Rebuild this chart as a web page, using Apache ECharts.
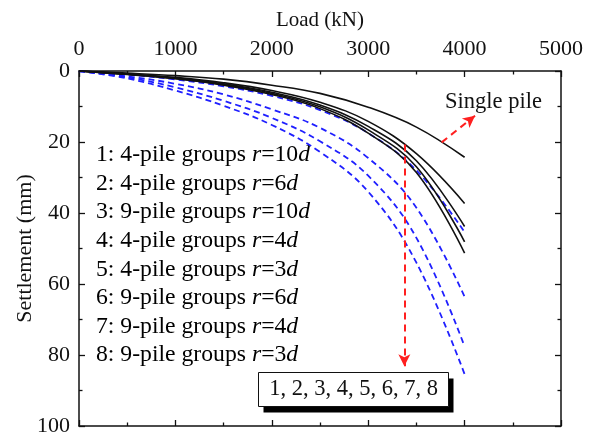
<!DOCTYPE html>
<html>
<head>
<meta charset="utf-8">
<script src="https://cdn.jsdelivr.net/npm/echarts@6/dist/echarts.min.js"></script>
<style>
  html, body { margin: 0; padding: 0; background: #fff; }
  #chart { width: 594px; height: 437px; }
</style>
</head>
<body>
<div id="chart"></div>
<script>
// Load steps (kN) shared by every curve
const loads = [0, 500, 1000, 1500, 2000, 2500, 3000, 3500, 4000];

// Settlement (mm) of the single pile
const singlePile = [0, 0.6, 1.3, 2.3, 4.0, 6.3, 10.2, 15.8, 24.3];

// 4-pile groups (solid black)
const g1_4pile_r10 = [0, 0.8, 1.8, 3.3, 5.5, 8.8, 14.2, 23.3, 37.3];
const g2_4pile_r6  = [0, 0.9, 2.0, 3.6, 6.0, 9.6, 15.6, 25.3, 43.8];
const g4_4pile_r4  = [0, 0.9, 2.1, 3.8, 6.3, 10.1, 16.6, 27.0, 48.1];
const g5_4pile_r3  = [0, 1.0, 2.2, 4.0, 6.6, 10.6, 17.5, 28.6, 51.3];

// 9-pile groups (dashed blue)
const g3_9pile_r10 = [0, 1.0, 2.4, 4.3, 7.0, 11.0, 17.5, 28.0, 45.4];
const g6_9pile_r6  = [0, 1.5, 3.6, 6.6, 10.8, 16.0, 24.5, 38.5, 63.6];
const g7_9pile_r4  = [0, 1.8, 4.6, 8.4, 13.2, 19.8, 29.5, 47.0, 77.6];
const g8_9pile_r3  = [0, 2.1, 5.5, 9.8, 15.2, 22.8, 34.0, 54.0, 85.4];

// Axis ticks
const loadTicks = [0, 1000, 2000, 3000, 4000, 5000];
const settlementTicks = [0, 20, 40, 60, 80, 100];

// Legend list text (number, pile count, spacing value)
const groupLabels = [
  ['1', '4', '10'], ['2', '4', '6'], ['3', '9', '10'], ['4', '4', '4'],
  ['5', '4', '3'], ['6', '9', '6'], ['7', '9', '4'], ['8', '9', '3']
];

// Red dashed pointer arrows, [load, settlement] start -> end
const arrowToBox = [[3375, 20.7], [3375, 83.2]];
const arrowToSingle = [[3762, 20.1], [4108, 12.6]];

const FONT = 'Liberation Serif, Times New Roman, serif';
const BLACK = '#111';
const BLUE = '#1f1fff';
const RED = '#ff2020';

const toPts = vals => loads.map((x, i) => [x, vals[i]]);

function solid(name, vals) {
  return {
    name, type: 'line', data: toPts(vals), smooth: 0.4,
    showSymbol: false, symbol: 'none', xAxisIndex: 0, yAxisIndex: 0,
    lineStyle: { color: BLACK, width: 1.6 }, z: 3
  };
}
function dashed(name, vals) {
  return {
    name, type: 'line', data: toPts(vals), smooth: 0.4,
    showSymbol: false, symbol: 'none', xAxisIndex: 0, yAxisIndex: 0,
    lineStyle: { color: BLUE, width: 1.8, type: [6, 4] }, z: 2
  };
}

const arrowLine = (pair) => [
  { coord: pair[0], symbol: 'none' },
  { coord: pair[1], symbol: 'arrow' }
];

const series = [
  Object.assign(solid('Single pile', singlePile), {
    markLine: {
      silent: true, animation: false,
      symbol: ['none', 'arrow'], symbolSize: [9, 12],
      lineStyle: { color: RED, width: 2, type: [7, 5] },
      label: { show: false },
      data: [arrowLine(arrowToBox), arrowLine(arrowToSingle)]
    }
  }),
  solid('1: 4-pile groups r=10d', g1_4pile_r10),
  solid('2: 4-pile groups r=6d', g2_4pile_r6),
  dashed('3: 9-pile groups r=10d', g3_9pile_r10),
  solid('4: 4-pile groups r=4d', g4_4pile_r4),
  solid('5: 4-pile groups r=3d', g5_4pile_r3),
  dashed('6: 9-pile groups r=6d', g6_9pile_r6),
  dashed('7: 9-pile groups r=4d', g7_9pile_r4),
  dashed('8: 9-pile groups r=3d', g8_9pile_r3)
];

const axisLine = { show: true, onZero: false, lineStyle: { color: BLACK, width: 1.5 } };
const tickStyle = { inside: true, length: 6, lineStyle: { color: BLACK, width: 1.3 } };
const minorStyle = { show: true, splitNumber: 2, length: 3.5, lineStyle: { color: BLACK, width: 1.3 } };
const labelStyle = { fontFamily: FONT, fontSize: 22, color: BLACK, formatter: v => String(v) };

const xBase = {
  type: 'value', min: loadTicks[0], max: loadTicks[loadTicks.length - 1],
  interval: loadTicks[1] - loadTicks[0],
  axisLine, axisTick: tickStyle, minorTick: minorStyle,
  splitLine: { show: false }, minorSplitLine: { show: false }
};
const yBase = {
  type: 'value', inverse: true,
  min: settlementTicks[0], max: settlementTicks[settlementTicks.length - 1],
  interval: settlementTicks[1] - settlementTicks[0],
  axisLine, axisTick: tickStyle, minorTick: minorStyle,
  splitLine: { show: false }, minorSplitLine: { show: false }
};

// Legend list drawn as rich text, italic r and d
const rich = {
  n: { fontFamily: FONT, fontSize: 23.7, color: BLACK },
  i: { fontFamily: FONT, fontSize: 23.7, color: BLACK, fontStyle: 'italic' }
};
const listTexts = groupLabels.map((g, k) => ({
  type: 'text', left: 96, top: 143 + k * 28.6, silent: true,
  style: {
    text: `{n|${g[0]}: ${g[1]}-pile groups }{i|r}{n|=${g[2]}}{i|d}`,
    rich
  }
}));

const option = {
  animation: false,
  backgroundColor: '#fff',
  grid: { left: 79, top: 71, right: 33, bottom: 9, containLabel: false },
  xAxis: [
    Object.assign({}, xBase, {
      position: 'top', name: 'Load (kN)', nameLocation: 'middle', nameGap: 40,
      nameMoveOverlap: false,
      nameTextStyle: { fontFamily: FONT, fontSize: 21, color: BLACK },
      axisLabel: Object.assign({ margin: 11 }, labelStyle)
    }),
    Object.assign({}, xBase, { position: 'bottom', axisLabel: { show: false } })
  ],
  yAxis: [
    Object.assign({}, yBase, {
      position: 'left', name: 'Settlement (mm)', nameLocation: 'middle', nameGap: 43,
      nameRotate: 90, nameMoveOverlap: false,
      nameTextStyle: { fontFamily: FONT, fontSize: 22, color: BLACK },
      axisLabel: Object.assign({ margin: 9 }, labelStyle)
    }),
    Object.assign({}, yBase, { position: 'right', axisLabel: { show: false } })
  ],
  series,
  graphic: [
    ...listTexts,
    {
      type: 'text', left: 445, top: 91, silent: true,
      style: { text: 'Single pile', fontFamily: FONT, fontSize: 22.5, fill: BLACK }
    },
    {
      type: 'group', left: 258, top: 372, silent: true,
      children: [
        { type: 'rect', shape: { x: 5, y: 6, width: 190, height: 34 }, style: { fill: '#000' } },
        { type: 'rect', shape: { x: 0, y: 0, width: 190, height: 34 },
          style: { fill: '#fff', stroke: BLACK, lineWidth: 1 } },
        { type: 'text', x: 95, y: 17,
          style: { text: '1, 2, 3, 4, 5, 6, 7, 8', fontFamily: FONT, fontSize: 22.5, fill: BLACK,
                   align: 'center', verticalAlign: 'middle' } }
      ]
    }
  ]
};

const chart = echarts.init(document.getElementById('chart'), null, { renderer: 'canvas' });
chart.setOption(option);
</script>
</body>
</html>
